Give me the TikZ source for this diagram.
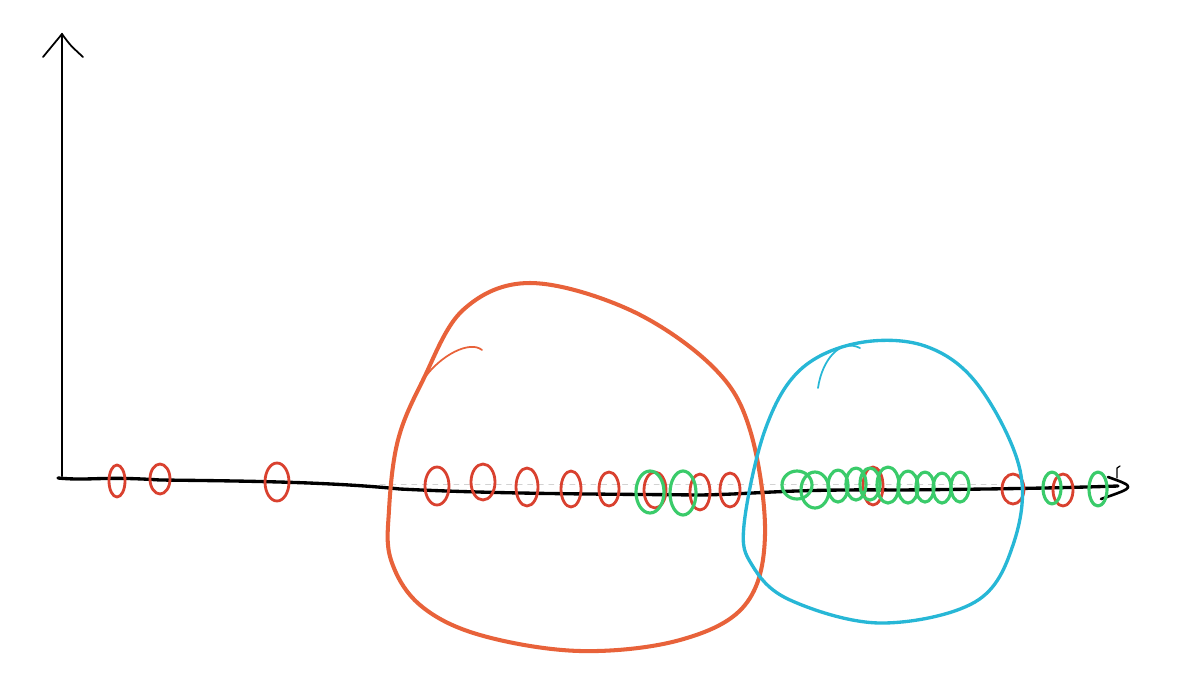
\documentclass[tikz,border=0pt]{standalone}
\usepackage{tikz}

\definecolor{loopred}{HTML}{D9412F}
\definecolor{loopgreen}{HTML}{3ACB6A}
\definecolor{bigorange}{HTML}{E8623A}
\definecolor{bigblue}{HTML}{27B7D6}

\begin{document}
\begin{tikzpicture}
[x=0.02cm,y=-0.02cm,line cap=round,line join=round,
 axis/.style={draw=black,line width=1.9pt},
 redloop/.style={draw=loopred,line width=1.6pt},
 greenloop/.style={draw=loopgreen,line width=1.8pt},
 orangering/.style={draw=bigorange,line width=2.3pt},
 bluering/.style={draw=bigblue,line width=1.9pt}]
\useasboundingbox (0,0) rectangle (1193,683);
% faint guide line
\draw[gray!35,dashed,line width=0.3pt] (380,484) -- (1000,484);
% axes
\coordinate (origin) at (62,476);
\coordinate (ytip) at (62,34);
\coordinate (xend) at (1118,486);
\draw[axis,line width=1.5pt] (origin) -- (ytip);
\draw[axis,line width=1pt] (43,57) .. controls (52,46) .. (ytip) .. controls (70,45) .. (83,57);
\draw[axis] (58,478) .. controls (90,481) and (100,476) .. (160,480)
  .. controls (250,481) and (330,482) .. (400,489)
  .. controls (500,494) and (600,494) .. (700,495)
  .. controls (760,494) and (780,489) .. (900,490)
  .. controls (1000,489) and (1060,488) .. (xend);
\draw[axis,line width=1.5pt] (1108,477) .. controls (1136,487) .. (1101,499);
\draw[axis,line width=0.7pt] (1120,466) -- (1117,468) -- (1117,478);
% red points
\foreach \x/\y/\rx/\ry in {117/481/8/16,160/479/10/15,277/482/12/19,437/486/12/19,
  483/482/12/18,527/487/11/19,571/489/10/18,609/489/10/17,655/490/11/18,700/492/10/18,
  730/490/10/17,873/486/10/19,1013/489/11/15,1063/490/10/16}
\draw[redloop] (\x,\y) ellipse [x radius=\rx, y radius=\ry];
% green points
\foreach \x/\y/\rx/\ry in {650/492/14/21,683/493/13/22,797/485/15/14,815/490/14/18,
  838/486/10/16,856/484/10/16,870/484/10/16,888/485/11/18,908/487/10/16,925/487/9/15,
  942/488/9/15,960/487/9/15,1052/488/9/16,1098/489/9/17}
\draw[greenloop] (\x,\y) ellipse [x radius=\rx, y radius=\ry];
% big clusters
\draw[orangering] plot[smooth cycle,tension=0.6] coordinates {(389,510) (398,440)
  (423,380) (463,310) (530,283) (630,310) (713,367) (750,430) (765,535)
  (745,605) (680,640) (580,651) (480,635) (420,605) (391,560)};
\draw[bigorange,line width=1pt] (423,380) .. controls (440,355) and (470,340) .. (482,350);
\draw[bluering] plot[smooth cycle,tension=0.6] coordinates {(744,525) (765,430)
  (800,370) (858,343) (925,346) (978,385) (1020,470) (1013,545) (975,602)
  (880,623) (790,600) (752,565)};
\draw[bigblue,line width=1pt] (818,388) .. controls (822,360) and (840,338) .. (860,348);
\end{tikzpicture}
\end{document}
